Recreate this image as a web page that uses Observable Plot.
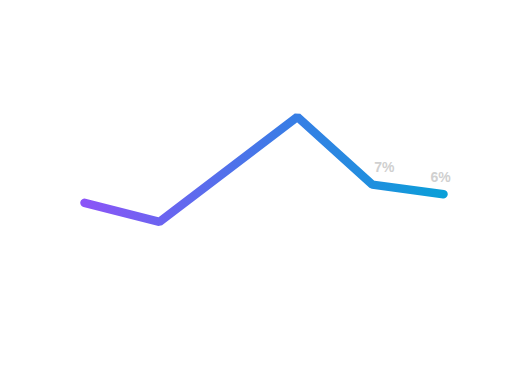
<!DOCTYPE html>
<html>
<head>
<meta charset="utf-8">
<script src="https://cdn.jsdelivr.net/npm/d3@7"></script>
<script src="https://cdn.jsdelivr.net/npm/@observablehq/plot@0.6"></script>
<style>
  html, body { margin: 0; padding: 0; background: #fff; }
  #chart svg { display: block; }
</style>
</head>
<body>
<div id="chart"></div>
<script>
// Data
const periods = [1.0, 2.0, 3.84, 4.84, 5.79];
const rates = [5.1, 3.1, 14.1, 7, 6];
const labelled = [false, false, false, true, true];

const data = periods.map((p, i) => ({p, v: rates[i], show: labelled[i], i}));

const gradientDefs = () => {
  const defs = d3.create("svg:defs");
  const g = defs.append("linearGradient")
    .attr("id", "lineGrad")
    .attr("x1", "0").attr("y1", "0").attr("x2", "1").attr("y2", "0");
  g.append("stop").attr("offset", "0%").attr("stop-color", "#8b55f7");
  g.append("stop").attr("offset", "55%").attr("stop-color", "#3b7be6");
  g.append("stop").attr("offset", "100%").attr("stop-color", "#0a9fd8");
  return defs.node();
};

const chart = Plot.plot({
  width: 531,
  height: 392,
  marginLeft: 84,
  marginRight: 88,
  marginTop: 60,
  marginBottom: 141,
  x: {domain: [periods[0], periods[periods.length - 1]], axis: null},
  y: {domain: [0, 20], axis: null},
  style: {fontFamily: "Liberation Sans, Arial, sans-serif", background: "#fff"},
  marks: [
    gradientDefs,
    Plot.line(data, {
      x: "p", y: "v",
      stroke: "url(#lineGrad)",
      strokeWidth: 8.5,
      strokeLinecap: "round",
      strokeLinejoin: "miter"
    }),
    Plot.text(data.filter(d => d.show && d.i === 3), {
      x: "p", y: "v", text: d => `${d.v}%`,
      dx: 12, dy: -17, fill: "#d0d0d0", fontSize: 14, fontWeight: "bold",
      textAnchor: "middle", lineAnchor: "middle"
    }),
    Plot.text(data.filter(d => d.show && d.i === 4), {
      x: "p", y: "v", text: d => `${d.v}%`,
      dx: -3, dy: -16.5, fill: "#d0d0d0", fontSize: 14, fontWeight: "bold",
      textAnchor: "middle", lineAnchor: "middle"
    })
  ]
});
document.getElementById("chart").appendChild(chart);
</script>
</body>
</html>
